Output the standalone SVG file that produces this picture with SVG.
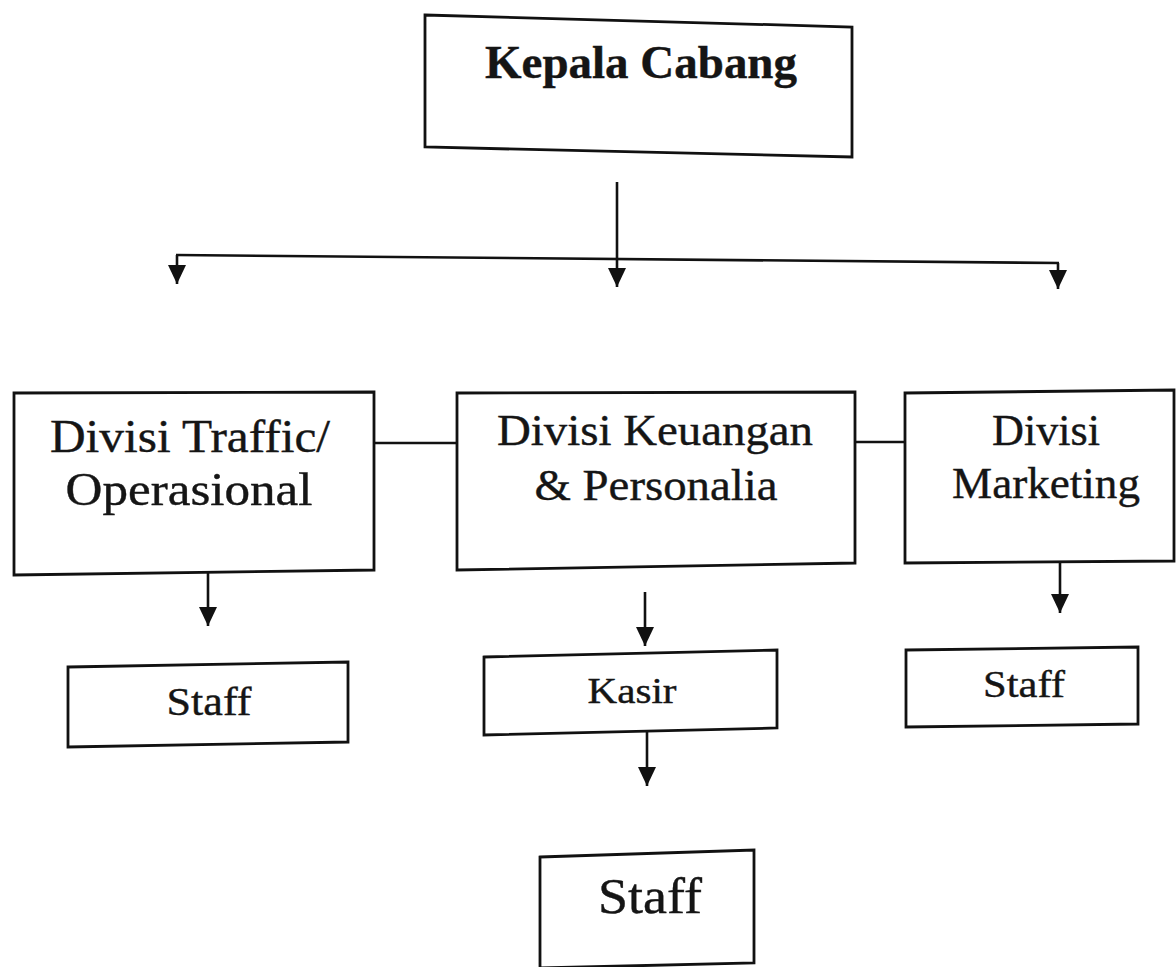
<svg xmlns="http://www.w3.org/2000/svg" width="1176" height="967" viewBox="0 0 1176 967">
<style>
.box{fill:#fff;stroke:#111;stroke-width:2.8;stroke-linejoin:miter}
.t{font-family:"Liberation Serif","Times New Roman",serif;fill:#151515;stroke:#151515;stroke-width:0.4;text-anchor:middle}
.b{font-weight:bold}
.ln{fill:none;stroke:#111;stroke-width:2.6}
</style>
<defs>
<marker id="ah" viewBox="0 0 19 18" refX="19" refY="9" markerWidth="19" markerHeight="18" markerUnits="userSpaceOnUse" orient="auto">
<path d="M0,0 L19,9 L0,18 z" fill="#111"/>
</marker>
</defs>
<rect width="1176" height="967" fill="#fff"/>
<g id="connectors">
<line class="ln" x1="617" y1="182" x2="617" y2="287" marker-end="url(#ah)"/>
<line class="ln" x1="176" y1="255" x2="1059" y2="263"/>
<line class="ln" x1="177" y1="255" x2="177" y2="284" marker-end="url(#ah)"/>
<line class="ln" x1="1058" y1="263" x2="1058" y2="289" marker-end="url(#ah)"/>
<line class="ln" x1="374" y1="443" x2="457" y2="443"/>
<line class="ln" x1="855" y1="442" x2="905" y2="442"/>
<line class="ln" x1="208" y1="573" x2="208" y2="626" marker-end="url(#ah)"/>
<line class="ln" x1="645" y1="592" x2="645" y2="646" marker-end="url(#ah)"/>
<line class="ln" x1="647" y1="730" x2="647" y2="786" marker-end="url(#ah)"/>
<line class="ln" x1="1060" y1="563" x2="1060" y2="613" marker-end="url(#ah)"/>
</g>
<g id="kepala-cabang">
<polygon class="box" points="425,15 852,27 852,157 425,147"/>
<text class="t b" x="641" y="78" font-size="46" textLength="312" lengthAdjust="spacingAndGlyphs">Kepala Cabang</text>
</g>
<g id="divisi-traffic">
<polygon class="box" points="14,393 374,392 374,570 14,575"/>
<text class="t" x="190" y="452" font-size="46" textLength="280" lengthAdjust="spacingAndGlyphs">Divisi Traffic/</text>
<text class="t" x="189" y="505" font-size="46" textLength="247" lengthAdjust="spacingAndGlyphs">Operasional</text>
</g>
<g id="divisi-keuangan">
<polygon class="box" points="457,393 855,392 855,563 457,570"/>
<text class="t" x="655" y="445" font-size="45" textLength="316" lengthAdjust="spacingAndGlyphs">Divisi Keuangan</text>
<text class="t" x="656" y="500" font-size="45" textLength="243" lengthAdjust="spacingAndGlyphs">&amp; Personalia</text>
</g>
<g id="divisi-marketing">
<polygon class="box" points="905,393 1174,390 1174,561 905,563"/>
<text class="t" x="1046" y="445" font-size="45" textLength="108" lengthAdjust="spacingAndGlyphs">Divisi</text>
<text class="t" x="1046" y="498" font-size="45" textLength="188" lengthAdjust="spacingAndGlyphs">Marketing</text>
</g>
<g id="staff-traffic">
<polygon class="box" points="68,667 348,662 348,742 68,747"/>
<text class="t" x="209" y="715" font-size="41" textLength="85" lengthAdjust="spacingAndGlyphs">Staff</text>
</g>
<g id="kasir">
<polygon class="box" points="484,657 777,650 777,728 484,735"/>
<text class="t" x="632" y="703" font-size="36" textLength="89" lengthAdjust="spacingAndGlyphs">Kasir</text>
</g>
<g id="staff-marketing">
<polygon class="box" points="906,650 1138,647 1138,724 906,727"/>
<text class="t" x="1024" y="697" font-size="38" textLength="82" lengthAdjust="spacingAndGlyphs">Staff</text>
</g>
<g id="staff-keuangan">
<polygon class="box" points="540,857 754,850 754,963 540,968"/>
<text class="t" x="650" y="913" font-size="50" textLength="104" lengthAdjust="spacingAndGlyphs">Staff</text>
</g>
</svg>
